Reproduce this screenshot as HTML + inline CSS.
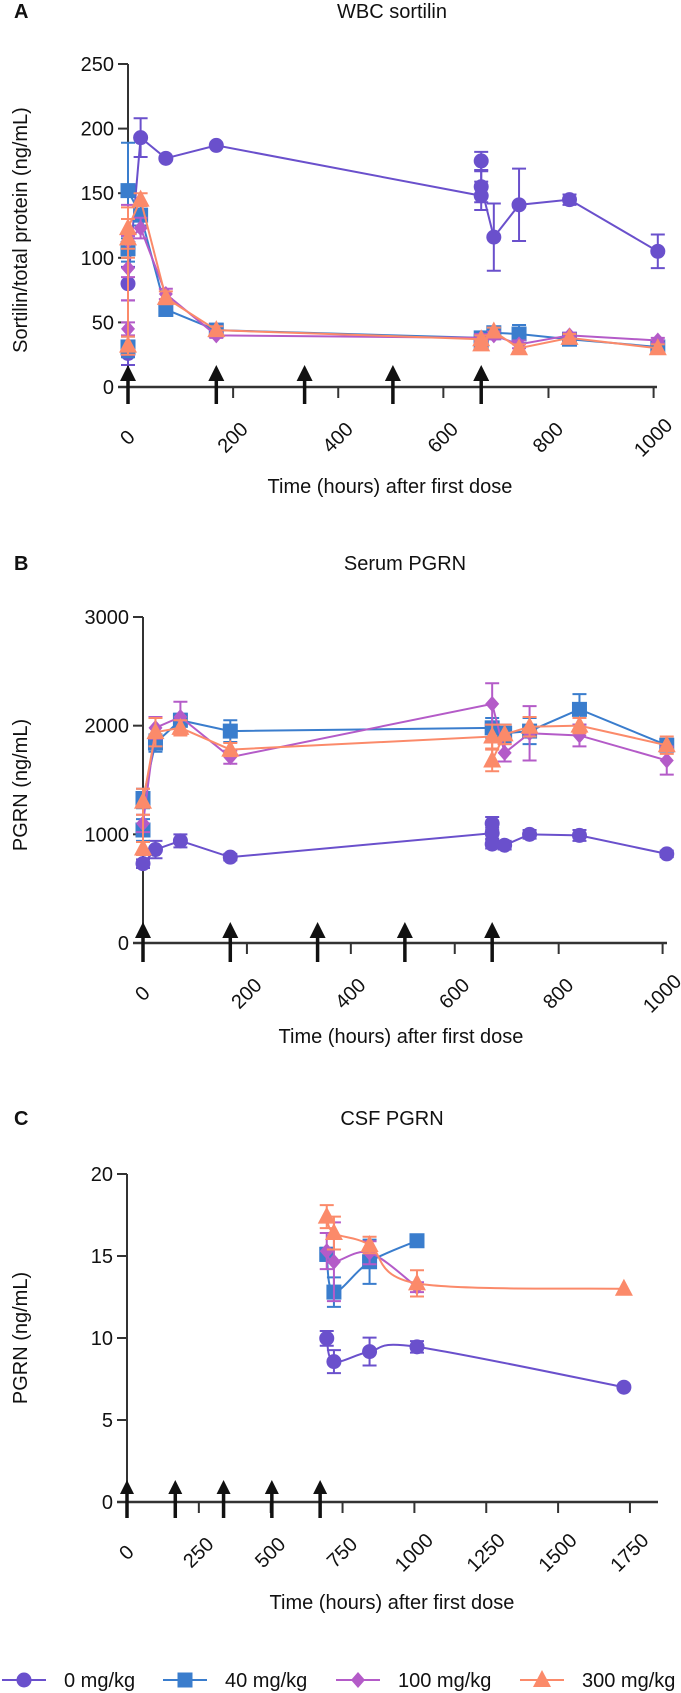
<!DOCTYPE html>
<html><head><meta charset="utf-8">
<style>
html,body{margin:0;padding:0;background:#fff;}
svg{display:block;font-family:"Liberation Sans",Arial,sans-serif;}
</style></head>
<body>
<svg id="chart" width="681" height="1693" viewBox="0 0 681 1693" xmlns="http://www.w3.org/2000/svg"></svg>
<script>
// ---------- Data ----------
const seriesNames = ["0 mg/kg","40 mg/kg","100 mg/kg","300 mg/kg"];
const doseTimes = [0,168,336,504,672];

// Panel A: WBC sortilin
const aT0 = [0,0,24,72,168,672,672,672,696,744,840,1008];
const aV0 = [26,80,193,177,187,148,175,155,116,141,145,105];
const aE0 = [9,13,15,0,0,11,7,12,26,28,4,13];
const aT1 = [0,0,0,24,72,168,672,672,696,744,840,1008];
const aV1 = [31,107,152,133,60,44,38,35,42,41,37,31];
const aE1 = [8,10,37,8,4,5,4,4,4,7,3,3];
const aT2 = [0,0,0,24,72,168,672,696,744,840,1008];
const aV2 = [45,92,113,123,72,40,38,40,33,40,36];
const aE2 = [5,25,28,8,4,2,3,3,3,2,2];
const aT3 = [0,0,0,24,72,168,672,672,696,744,840,1008];
const aV3 = [32,115,123,145,69,44,37,33,43,30,38,30];
const aE3 = [7,15,16,5,5,3,3,3,3,3,3,3];
const aYTicks = [0,50,100,150,200,250];
const aXTicks = [0,200,400,600,800,1000];

// Panel B: Serum PGRN
const bT0 = [0,24,72,168,672,672,672,696,744,840,1008];
const bV0 = [730,860,940,790,1010,1100,910,900,1000,990,820];
const bE0 = [40,80,60,30,50,60,40,40,40,50,30];
const bT1 = [0,0,24,72,168,672,696,744,840,1008];
const bV1 = [1040,1330,1840,2050,1950,1980,1930,1950,2150,1820];
const bE1 = [100,90,80,60,100,90,80,120,140,50];
const bT2 = [0,24,72,168,672,696,744,840,1008];
const bV2 = [1100,1980,2080,1710,2200,1750,1930,1910,1680];
const bE2 = [80,100,140,60,190,80,250,100,130];
const bT3 = [0,0,24,72,168,672,672,696,744,840,1008];
const bV3 = [870,1300,1940,1980,1780,1900,1680,1920,1990,2000,1820];
const bE3 = [60,120,130,70,60,110,100,90,90,70,80];
const bYTicks = [0,1000,2000,3000];
const bXTicks = [0,200,400,600,800,1000];

// Panel C: CSF PGRN
const cT0 = [695,720,844,1009,1729];
const cV0 = [9.98,8.56,9.17,9.46,7.0];
const cE0 = [0.45,0.7,0.85,0.35,0];
const cT1 = [695,720,844,1009];
const cV1 = [15.1,12.8,14.65,15.93];
const cE1 = [0.4,0.9,1.35,0.1];
const cT2 = [695,720,844,1009];
const cV2 = [15.3,14.65,15.2,13.1];
const cE2 = [1.1,2.4,0.7,0.3];
const cT3 = [695,720,844,1009,1729];
const cV3 = [17.4,16.4,15.67,13.33,13.0];
const cE3 = [0.7,1.0,0.5,0.8,0];
const cYTicks = [0,5,10,15,20];
const cXTicks = [0,250,500,750,1000,1250,1500,1750];

// ---------- Drawing ----------
const colors = ["#6a50cc","#3a7dcd","#b45bc8","#fb8a6a"];
const shapes = ["circle","square","diamond","triangle"];
const NS = "http://www.w3.org/2000/svg";
const svg = document.getElementById("chart");
function el(tag, attrs, parent){
  const e = document.createElementNS(NS, tag);
  for (const k in attrs) e.setAttribute(k, attrs[k]);
  (parent||svg).appendChild(e);
  return e;
}
function marker(g, shape, x, y, c){
  let m;
  if (shape==="circle") m = el("circle",{cx:x,cy:y,r:7.5,fill:c},g);
  else if (shape==="square") m = el("rect",{x:x-7.5,y:y-7.5,width:15,height:15,fill:c},g);
  else if (shape==="diamond") m = el("polygon",{points:`${x},${y-8} ${x+7},${y} ${x},${y+8} ${x-7},${y}`,fill:c},g);
  else m = el("polygon",{points:`${x},${y-10} ${x+9},${y+7} ${x-9},${y+7}`,fill:c},g);
  return m;
}
function spline(pts){
  if (pts.length<3) return "M"+pts.map(p=>p.join(",")).join(" L");
  let d = `M${pts[0][0]},${pts[0][1]}`;
  for (let i=0;i<pts.length-1;i++){
    const p0=pts[Math.max(0,i-1)], p1=pts[i], p2=pts[i+1], p3=pts[Math.min(pts.length-1,i+2)];
    const c1=[p1[0]+(p2[0]-p0[0])/6, p1[1]+(p2[1]-p0[1])/6];
    const c2=[p2[0]-(p3[0]-p1[0])/6, p2[1]-(p3[1]-p1[1])/6];
    d += ` C${c1[0]},${c1[1]} ${c2[0]},${c2[1]} ${p2[0]},${p2[1]}`;
  }
  return d;
}
function panel(cfg){
  const g = el("g",{});
  
  
  const xs = t => cfg.x0 + t*cfg.xk;
  const ys = v => cfg.y0 - (v/cfg.ymax)*(cfg.y0-cfg.ytop);
  const L = el("text",{x:14,y:cfg.titleY+7,"font-size":20,"font-weight":"bold",fill:"#111"},g);
  L.textContent = cfg.letter;
  
  
  const T = el("text",{x:cfg.titleX,y:cfg.titleY+7,"font-size":20,"text-anchor":"middle",fill:"#111"},g);
  T.textContent = cfg.title;
  
  
  const ya = el("line",{x1:cfg.yAxisX,y1:cfg.ytop,x2:cfg.yAxisX,y2:cfg.y0,stroke:"#333","stroke-width":2},g);
  
  
  cfg.yTicks.forEach(v=>{
    el("line",{x1:cfg.yAxisX-10,y1:ys(v),x2:cfg.yAxisX,y2:ys(v),stroke:"#333","stroke-width":2},g);
    const t = el("text",{x:cfg.yAxisX-14,y:ys(v)+7,"font-size":20,"text-anchor":"end",fill:"#111"},g);
    t.textContent = v;
    
    
  });
  const yt = el("text",{transform:`translate(${cfg.yTitleX},${cfg.yTitleY}) rotate(-90)`,"font-size":20,"text-anchor":"middle",fill:"#111"},g);
  yt.textContent = cfg.yTitle;
  
  
  const xa = el("line",{x1:cfg.xAxisL,y1:cfg.y0,x2:cfg.xAxisR,y2:cfg.y0,stroke:"#333","stroke-width":2.5},g);
  
  
  cfg.xTicks.forEach(v=>{
    el("line",{x1:xs(v),y1:cfg.y0,x2:xs(v),y2:cfg.y0+11,stroke:"#333","stroke-width":2},g);
    const t = el("text",{transform:`translate(${xs(v)},${cfg.y0+51}) rotate(-45)`,"font-size":20,"text-anchor":"middle","dominant-baseline":"central",fill:"#111"},g);
    t.textContent = v;
    
    
  });
  const xt = el("text",{x:cfg.xTitleX,y:cfg.y0+cfg.xTitleDy,"font-size":20,"text-anchor":"middle",fill:"#111"},g);
  xt.textContent = "Time (hours) after first dose";
  
  
  cfg.series.forEach((s,i)=>{
    const sg = el("g",{},g);
    
    
    const pts = s.t.map((t,j)=>[xs(t), ys(s.v[j])]);
    const line = el("path",{d: cfg.smooth ? spline(pts) : "M"+pts.map(p=>p.join(",")).join(" L"), fill:"none", stroke:colors[i], "stroke-width":2},sg);
    
    
    s.t.forEach((t,j)=>{
      const e = s.e[j];
      if (e>0){
        const x = xs(t), y1 = ys(s.v[j]+e), y2 = ys(s.v[j]-e);
        const eb = el("path",{d:`M${x},${y1} L${x},${y2} M${x-7},${y1} L${x+7},${y1} M${x-7},${y2} L${x+7},${y2}`,stroke:colors[i],"stroke-width":2,fill:"none"},sg);
        
        
      }
    });
    s.t.forEach((t,j)=>{
      const m = marker(sg, shapes[i], xs(t), ys(s.v[j]), colors[i]);
      
      
    });
  });
  doseTimes.forEach(t=>{
    const x = xs(t);
    const ag = el("g",{},g);
    
    
    el("line",{x1:x,y1:cfg.arrTop+10,x2:x,y2:cfg.arrBot,stroke:"#111","stroke-width":3.5},ag);
    el("polygon",{points:`${x},${cfg.arrTop} ${x+cfg.aw},${cfg.arrTop+cfg.ah} ${x-cfg.aw},${cfg.arrTop+cfg.ah}`,fill:"#111"},ag);
  });
}

panel({name:"panel-a-wbc-sortilin",letter:"A",title:"WBC sortilin",titleX:392,titleY:11,
  x0:128,xk:0.5256,y0:387,ytop:64,ymax:250,yAxisX:128,xAxisL:118,xAxisR:657,
  yTicks:aYTicks,xTicks:aXTicks,yTitle:"Sortilin/total protein (ng/mL)",yTitleX:27,yTitleY:230,
  xTitleX:390,xTitleDy:106,arrTop:365,arrBot:404,aw:8,ah:16,smooth:false,
  series:[{t:aT0,v:aV0,e:aE0},{t:aT1,v:aV1,e:aE1},{t:aT2,v:aV2,e:aE2},{t:aT3,v:aV3,e:aE3}]});

panel({name:"panel-b-serum-pgrn",letter:"B",title:"Serum PGRN",titleX:405,titleY:563,
  x0:143,xk:0.5196,y0:943,ytop:617,ymax:3000,yAxisX:143,xAxisL:133,xAxisR:667,
  yTicks:bYTicks,xTicks:bXTicks,yTitle:"PGRN (ng/mL)",yTitleX:27,yTitleY:785,
  xTitleX:401,xTitleDy:100,arrTop:922,arrBot:962,aw:8,ah:16,smooth:false,
  series:[{t:bT0,v:bV0,e:bE0},{t:bT1,v:bV1,e:bE1},{t:bT2,v:bV2,e:bE2},{t:bT3,v:bV3,e:bE3}]});

panel({name:"panel-c-csf-pgrn",letter:"C",title:"CSF PGRN",titleX:392,titleY:1118,
  x0:127,xk:0.2874,y0:1502,ytop:1174,ymax:20,yAxisX:127,xAxisL:117,xAxisR:658,
  yTicks:cYTicks,xTicks:cXTicks,yTitle:"PGRN (ng/mL)",yTitleX:27,yTitleY:1338,
  xTitleX:392,xTitleDy:107,arrTop:1480,arrBot:1518,aw:7,ah:14,smooth:true,
  series:[{t:cT0,v:cV0,e:cE0},{t:cT1,v:cV1,e:cE1},{t:cT2,v:cV2,e:cE2},{t:cT3,v:cV3,e:cE3}]});

// legend
const legX = [2,163,336,520];
const lg = el("g",{});


seriesNames.forEach((n,i)=>{
  const g = el("g",{},lg);
  
  
  const x = legX[i], y = 1680;
  el("line",{x1:x,y1:y,x2:x+44,y2:y,stroke:colors[i],"stroke-width":2},g);
  marker(g, shapes[i], x+22, y, colors[i]);
  const t = el("text",{x:x+62,y:y+7,"font-size":20,fill:"#111"},g);
  t.textContent = n;
  
  
});
</script>
</body></html>
